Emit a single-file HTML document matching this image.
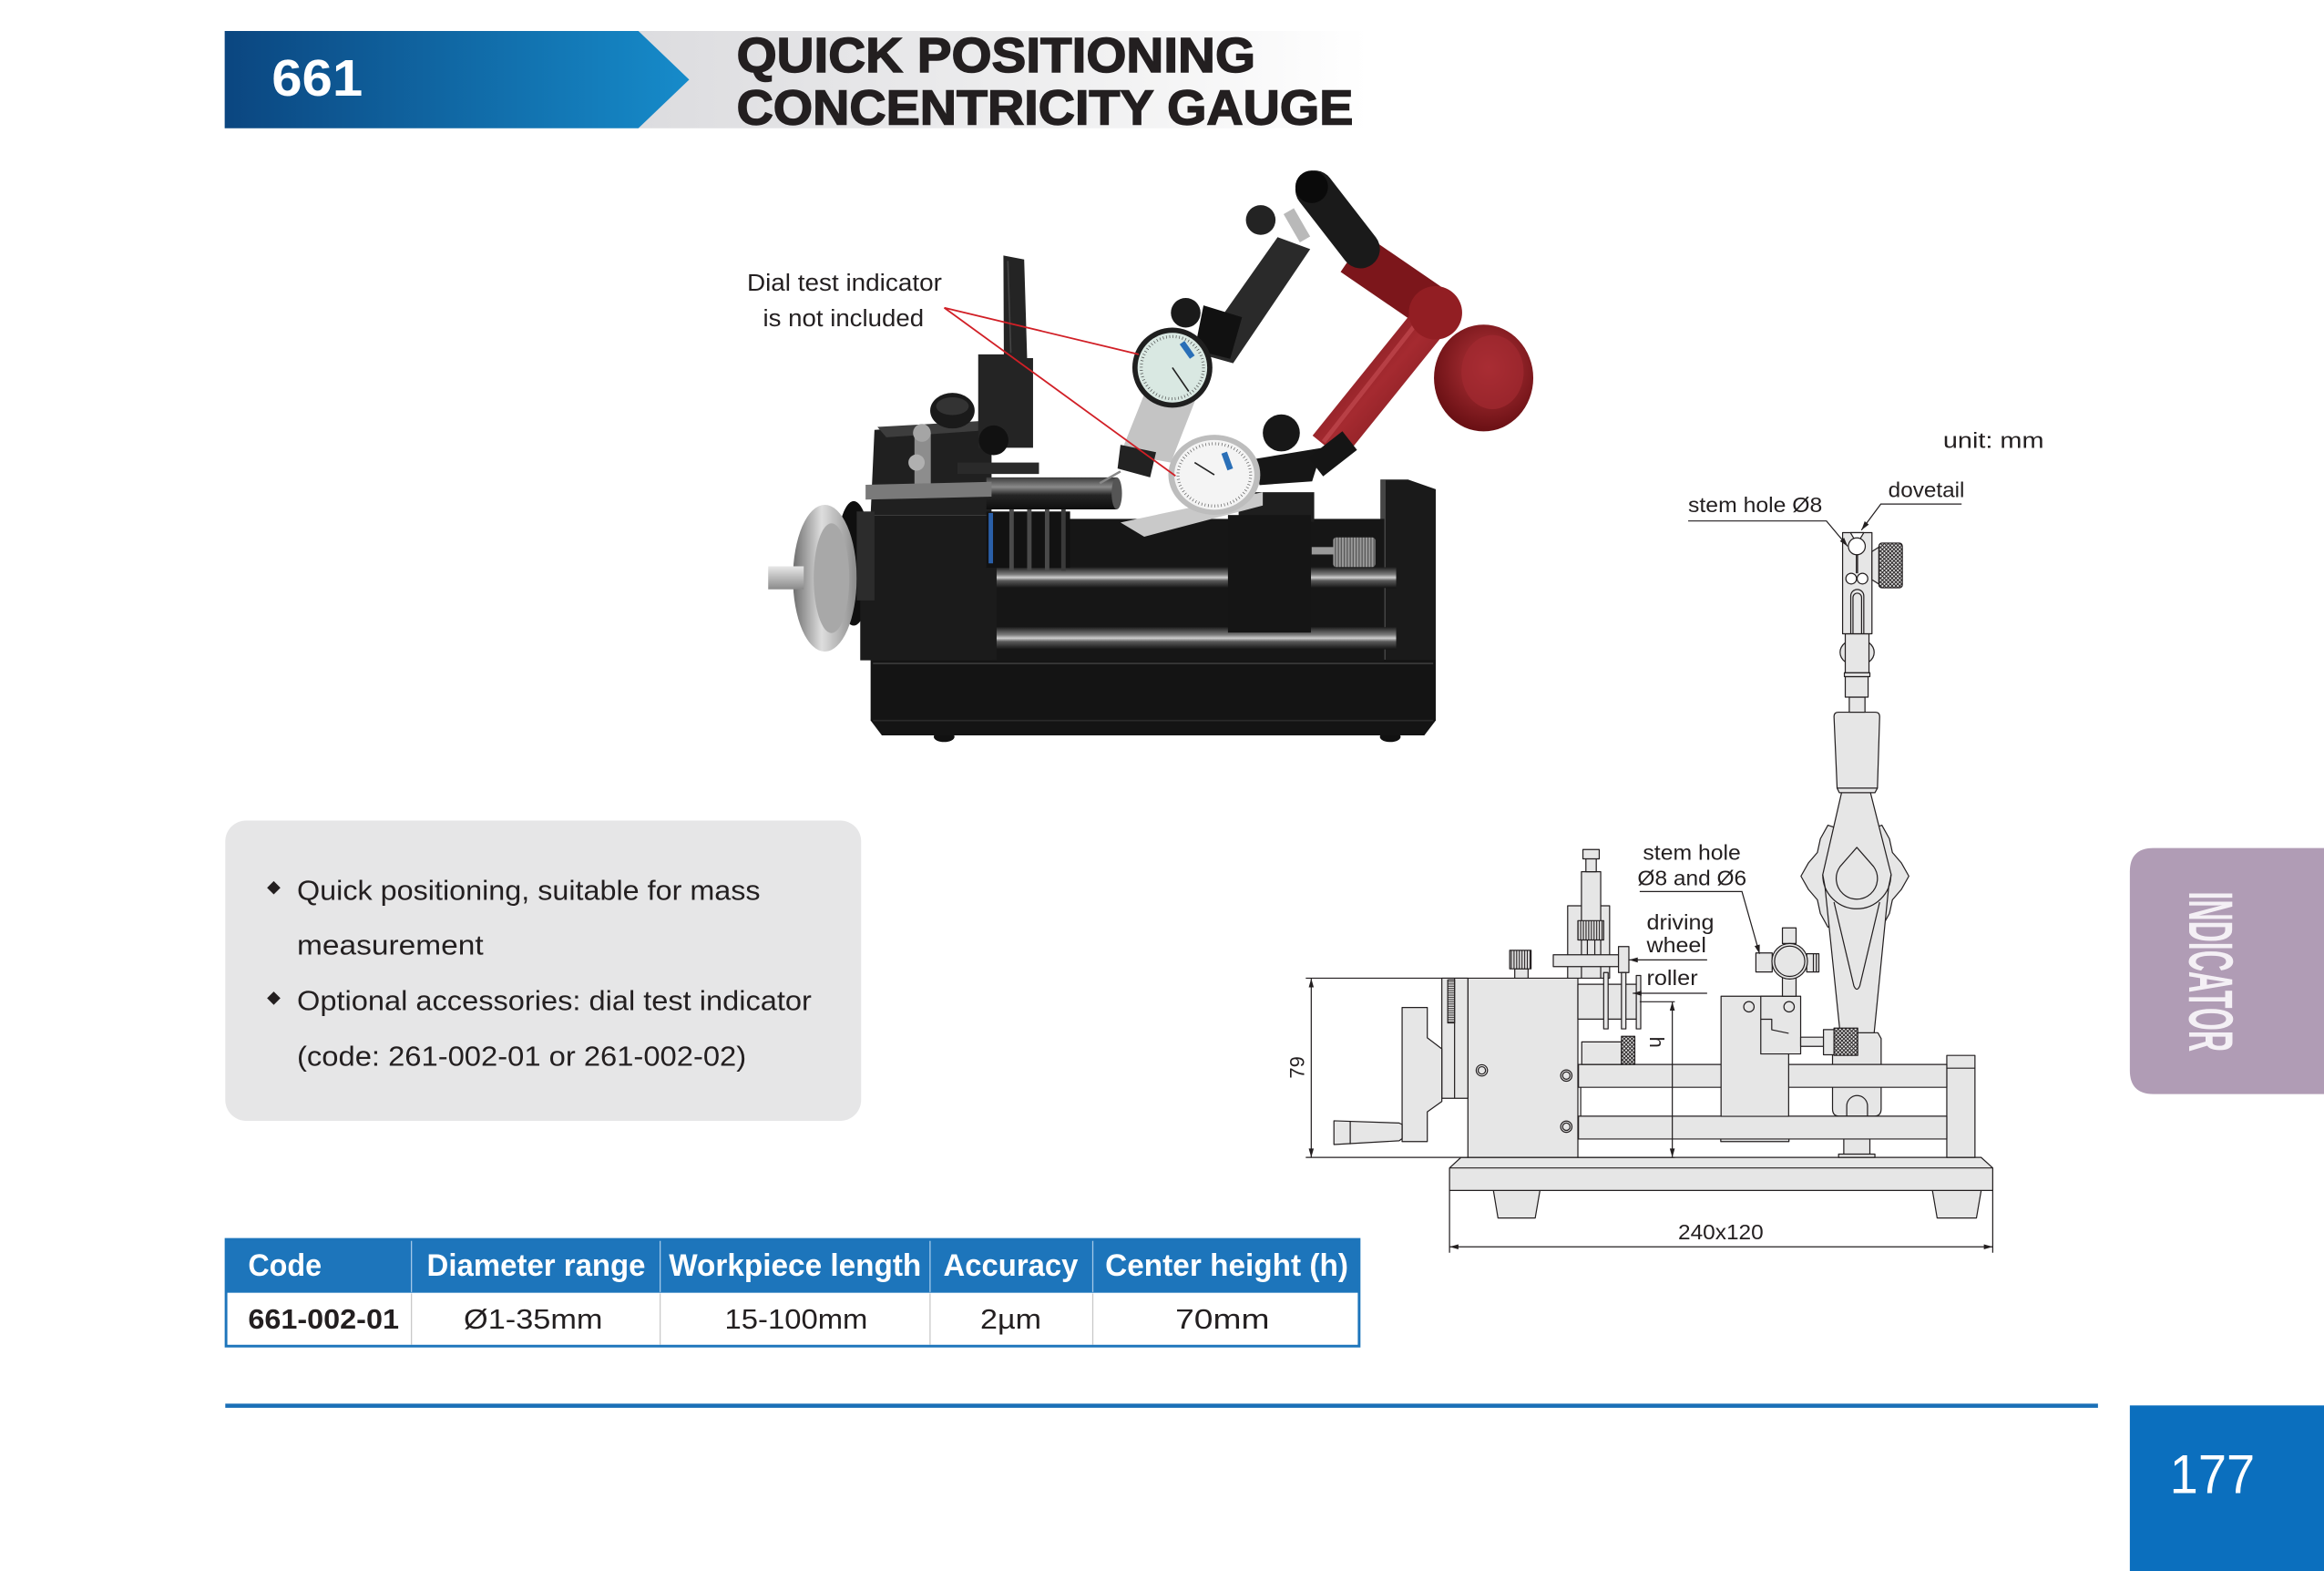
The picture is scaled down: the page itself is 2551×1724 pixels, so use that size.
<!DOCTYPE html>
<html><head><meta charset="utf-8">
<style>
html,body{margin:0;padding:0;background:#fff;}
svg{display:block;}
text{font-family:"Liberation Sans",Arial,sans-serif;}
</style></head><body>
<svg xmlns="http://www.w3.org/2000/svg" width="2551" height="1724" viewBox="0 0 1568 1059.68" preserveAspectRatio="none">
<defs>
 <linearGradient id="hdr" x1="0" x2="1" y1="0" y2="0"><stop offset="0" stop-color="#0b4680"/><stop offset="1" stop-color="#168bca"/></linearGradient>
 <linearGradient id="gry" x1="0" x2="1" y1="0" y2="0"><stop offset="0" stop-color="#dcdcdf"/><stop offset="0.55" stop-color="#eeeeef"/><stop offset="1" stop-color="#ffffff"/></linearGradient>
 <linearGradient id="rod" x1="0" x2="0" y1="0" y2="1"><stop offset="0" stop-color="#1e1e1e"/><stop offset="0.35" stop-color="#7d7d7d"/><stop offset="0.5" stop-color="#cfcfcf"/><stop offset="0.65" stop-color="#5a5a5a"/><stop offset="1" stop-color="#141414"/></linearGradient>
 <linearGradient id="silv" x1="0" x2="0" y1="0" y2="1"><stop offset="0" stop-color="#e8e8e8"/><stop offset="1" stop-color="#8a8a8a"/></linearGradient>
 <linearGradient id="wheel" x1="0" x2="1" y1="0" y2="0"><stop offset="0" stop-color="#6e6e6e"/><stop offset="0.45" stop-color="#dedede"/><stop offset="1" stop-color="#8a8a8a"/></linearGradient>
 <linearGradient id="spin" x1="0" x2="0" y1="0" y2="1"><stop offset="0" stop-color="#3a3a3a"/><stop offset="0.3" stop-color="#8a8a8a"/><stop offset="0.55" stop-color="#262626"/><stop offset="1" stop-color="#0e0e0e"/></linearGradient>
 <radialGradient id="redk" cx="0.55" cy="0.4" r="0.6"><stop offset="0" stop-color="#b8363c"/><stop offset="1" stop-color="#6a1014"/></radialGradient>
 <linearGradient id="reda" x1="0" x2="1" y1="0" y2="1"><stop offset="0" stop-color="#5e0f13"/><stop offset="0.5" stop-color="#a52a30"/><stop offset="1" stop-color="#6a1216"/></linearGradient>
 <pattern id="kn" width="2.6" height="2.6" patternUnits="userSpaceOnUse"><rect width="2.6" height="2.6" fill="#e6e6e6"/><path d="M0,0 L2.6,2.6 M2.6,0 L0,2.6" stroke="#231f20" stroke-width="0.6"/></pattern>
 <pattern id="kv" width="1.8" height="4" patternUnits="userSpaceOnUse"><rect width="1.8" height="4" fill="#e6e6e6"/><path d="M0.9,0 V4" stroke="#231f20" stroke-width="0.7"/></pattern>
 <pattern id="kh" width="4" height="1.5" patternUnits="userSpaceOnUse"><rect width="4" height="1.5" fill="#e6e6e6"/><path d="M0,0.75 H4" stroke="#231f20" stroke-width="0.6"/></pattern>
 <pattern id="pk" width="2" height="4" patternUnits="userSpaceOnUse"><rect width="2" height="4" fill="#9a9a9a"/><path d="M1,0 V4" stroke="#555" stroke-width="0.8"/></pattern>
</defs>

<!-- HEADER -->
<polygon points="430.7,20.9 923.5,20.9 923.5,86.5 430.7,86.5" fill="url(#gry)"/>
<polygon points="151.6,20.9 430.7,20.9 465,53.7 430.7,86.5 151.6,86.5" fill="url(#hdr)"/>
<text x="183.3" y="64.5" font-size="35" font-weight="bold" fill="#fff" textLength="61.5" lengthAdjust="spacingAndGlyphs">661</text>
<text x="497" y="48.5" font-size="33" font-weight="bold" fill="#231f20" stroke="#231f20" stroke-width="0.9" textLength="350" lengthAdjust="spacingAndGlyphs">QUICK POSITIONING</text>
<text x="497" y="84" font-size="33" font-weight="bold" fill="#231f20" stroke="#231f20" stroke-width="0.9" textLength="416" lengthAdjust="spacingAndGlyphs">CONCENTRICITY GAUGE</text>

<!-- PHOTO -->
<g id="photo">
 <ellipse cx="637" cy="497" rx="7" ry="3.5" fill="#111"/>
 <ellipse cx="938" cy="497" rx="7" ry="3.5" fill="#111"/>
 <polygon points="587.4,445 968.7,445 968.7,486 961,496 595,496 587.4,486" fill="#141414"/>
 <line x1="589" y1="447.5" x2="967" y2="447.5" stroke="#3c3c3c" stroke-width="1"/>
 <line x1="589" y1="486" x2="967" y2="486" stroke="#2a2a2a" stroke-width="1"/>
 <!-- right post -->
 <polygon points="931.4,323.5 950,323.5 968.7,330 968.7,445 931.4,445" fill="#1a1a1a"/>
 <rect x="931.4" y="323.5" width="3.5" height="121.5" fill="#454545"/>
 <!-- carriage body -->
 <rect x="669" y="350" width="265" height="96" fill="#161616"/>
 <rect x="669" y="382.6" width="273" height="14" fill="url(#rod)"/>
 <rect x="669" y="423" width="273" height="15" fill="url(#rod)"/>
 <!-- handwheel -->
 <ellipse cx="576" cy="380" rx="12" ry="42" fill="#0f0f0f"/>
 <ellipse cx="556.5" cy="390" rx="21.5" ry="49.5" fill="url(#wheel)"/>
 <ellipse cx="561" cy="390" rx="12" ry="37" fill="#a8a8a8"/>
 <rect x="518.3" y="382" width="24" height="15.5" fill="url(#silv)"/>
 <!-- headstock -->
 <rect x="580.4" y="347.4" width="92" height="98" fill="#1b1b1b"/>
 <polygon points="590,290 669,284.4 669,347.4 587.4,347.4" fill="#202020"/>
 <polygon points="592,288 662,284 669,290 598,295" fill="#3d3d3d"/>
 <rect x="578" y="345" width="12" height="60" fill="#2c2c2c"/>
 <!-- rollers -->
 <rect x="665.5" y="345" width="56.5" height="38" fill="#121212"/>
 <rect x="667" y="346" width="3" height="34" fill="#2a5fa8"/>
 <rect x="681" y="343" width="3" height="42" fill="#4a4a4a"/>
 <rect x="693" y="343" width="3" height="42" fill="#4a4a4a"/>
 <rect x="705" y="343" width="3" height="42" fill="#4a4a4a"/>
 <rect x="716" y="343" width="3" height="42" fill="#3a3a3a"/>
 <!-- spindle -->
 <rect x="646" y="312" width="55" height="7.7" fill="#2a2a2a"/>
 <rect x="665.5" y="322" width="88" height="21.6" fill="url(#spin)"/>
 <ellipse cx="753.5" cy="332.8" rx="3.5" ry="10.8" fill="#555"/>
 <!-- bracket + screws -->
 <rect x="617" y="292" width="11" height="38" fill="#8d8d8d"/>
 <polygon points="584,327 669,325 669,335 584,337" fill="#7a7a7a"/>
 <circle cx="622" cy="292" r="6" fill="#a5a5a5"/>
 <circle cx="618.4" cy="312" r="5.5" fill="#b0b0b0"/>
 <ellipse cx="642.6" cy="277" rx="15" ry="12" fill="#1a1a1a"/>
 <ellipse cx="642.6" cy="274" rx="11" ry="6" fill="#333"/>
 <!-- L plate -->
 <polygon points="677,172.3 691,175 693,241.6 697,241.6 697,302 660,302 660,239 677.3,239" fill="#242424"/>
 <line x1="680" y1="176" x2="682" y2="238" stroke="#444" stroke-width="1"/>
 <circle cx="670.4" cy="297" r="10" fill="#111"/>
 <!-- tailstock -->
 <rect x="835.7" y="332" width="51" height="20" fill="#1e1e1e"/>
 <rect x="828.5" y="347.4" width="56" height="79.3" fill="#151515"/>
 <rect x="885" y="369" width="15" height="5" fill="#999"/>
 <rect x="899.5" y="362.5" width="28.4" height="20" rx="2" fill="url(#pk)"/>
 <!-- dial 2 body & clamp -->
 <polygon points="756,352.4 852,332 852,341 772,362" fill="#c9c9c9"/>
 <polygon points="846.3,309.6 892.4,302 885.3,324.7 849.8,327.2" fill="#161616"/>
 <circle cx="864.5" cy="292" r="12.5" fill="#171717"/>
 <!-- red arm -->
 <polygon points="904.5,183.4 960,221.4 977,196.6 921.5,158.6" fill="#7c161b"/>
 <polygon points="975.1,224.2 905.8,310.2 885.6,293.8 954.9,207.8" fill="url(#reda)"/>
 <line x1="962" y1="210" x2="893" y2="298" stroke="#c24a50" stroke-width="3" opacity="0.7"/>
 <rect x="884" y="298" width="29" height="16" fill="#151515" transform="rotate(-38 899 305)"/>
 <circle cx="968.5" cy="211" r="18" fill="#921e23"/>
 <ellipse cx="1001" cy="255" rx="33.5" ry="36" fill="url(#redk)"/>
 <ellipse cx="1007" cy="251" rx="21" ry="25" fill="#a22a30" opacity="0.7"/>
 <line x1="887" y1="128" x2="918" y2="168" stroke="#1a1a1a" stroke-width="26" stroke-linecap="round"/>
 <circle cx="885" cy="126" r="11" fill="#0a0a0a"/>
 <rect x="871" y="141" width="8" height="22" fill="#b9b9b9" transform="rotate(-30 875 152)"/>
 <!-- dial 1 holder -->
 <polygon points="862,160 884,168 832,245 807,238" fill="#2a2a2a"/>
 <polygon points="812,206 838,214 830,242 806,236" fill="#111"/>
 <circle cx="850.6" cy="148.4" r="10" fill="#232323"/>
 <circle cx="800" cy="211" r="10" fill="#1a1a1a"/>
 <!-- dial 1 body -->
 <polygon points="772,266 808,266 790,312 756,306" fill="#c4c4c4"/>
 <polygon points="756,300 780,305 776,322 754,316" fill="#222"/>
 <line x1="756" y1="318" x2="742" y2="326" stroke="#888" stroke-width="1.5"/>
 <!-- dial 1 -->
 <circle cx="791" cy="248" r="27" fill="#1f1f1f"/>
 <circle cx="791" cy="248" r="23.5" fill="#d9e8e2"/>
 <circle cx="791" cy="248" r="21" fill="none" stroke="#444" stroke-width="2" stroke-dasharray="0.4 1.8"/>
 <line x1="791" y1="248" x2="802" y2="264" stroke="#222" stroke-width="1"/>
 <rect x="795" y="234" width="12" height="4" fill="#2a6fb7" transform="rotate(55 801 236)"/>
 <!-- dial 2 -->
 <ellipse cx="819.3" cy="320.3" rx="31" ry="27" fill="#bdbdbd"/>
 <ellipse cx="819.3" cy="320.3" rx="27" ry="23.5" fill="#f4f4f4"/>
 <ellipse cx="819.3" cy="320.3" rx="24.5" ry="21" fill="none" stroke="#555" stroke-width="2" stroke-dasharray="0.4 1.8"/>
 <line x1="819.3" y1="320.3" x2="806" y2="312" stroke="#222" stroke-width="1"/>
 <rect x="822" y="309" width="12" height="4" fill="#2a6fb7" transform="rotate(70 828 311)"/>
 <!-- callout -->
 <text x="504" y="196" font-size="16" fill="#231f20" textLength="131.5" lengthAdjust="spacingAndGlyphs">Dial test indicator</text>
 <text x="514.8" y="220.2" font-size="16" fill="#231f20" textLength="108.5" lengthAdjust="spacingAndGlyphs">is not included</text>
 <line x1="637.1" y1="207.6" x2="768.3" y2="239" stroke="#d11f26" stroke-width="1.1"/>
 <line x1="637.1" y1="207.6" x2="793.1" y2="321" stroke="#d11f26" stroke-width="1.1"/>
</g>

<!-- FEATURE BOX -->
<rect x="152" y="553.5" width="429" height="202.5" rx="14" fill="#e6e6e7"/>
<g fill="#231f20">
 <polygon points="184.7,594.3 189.2,598.8 184.7,603.3 180.2,598.8"/>
 <polygon points="184.7,668.8 189.2,673.3 184.7,677.8 180.2,673.3"/>
 <text x="200.4" y="607" font-size="18.5" textLength="312.6" lengthAdjust="spacingAndGlyphs">Quick positioning, suitable for mass</text>
 <text x="200.4" y="644" font-size="18.5" textLength="125.8" lengthAdjust="spacingAndGlyphs">measurement</text>
 <text x="200.4" y="681.5" font-size="18.5" textLength="347.2" lengthAdjust="spacingAndGlyphs">Optional accessories: dial test indicator</text>
 <text x="200.4" y="718.8" font-size="18.5" textLength="303.1" lengthAdjust="spacingAndGlyphs">(code: 261-002-01 or 261-002-02)</text>
</g>

<!-- TABLE -->
<rect x="152.5" y="836" width="764.5" height="36" fill="#1d75bb"/>
<g stroke="#a3c8e8" stroke-width="0.8">
 <line x1="277.6" y1="837" x2="277.6" y2="871.5"/><line x1="445.4" y1="837" x2="445.4" y2="871.5"/>
 <line x1="627.5" y1="837" x2="627.5" y2="871.5"/><line x1="737.3" y1="837" x2="737.3" y2="871.5"/>
</g>
<g stroke="#c9c9c9" stroke-width="0.8">
 <line x1="277.6" y1="872.5" x2="277.6" y2="907"/><line x1="445.4" y1="872.5" x2="445.4" y2="907"/>
 <line x1="627.5" y1="872.5" x2="627.5" y2="907"/><line x1="737.3" y1="872.5" x2="737.3" y2="907"/>
</g>
<rect x="152.5" y="836" width="764.5" height="72" fill="none" stroke="#1d75bb" stroke-width="1.8"/>
<g fill="#fff" font-weight="bold" font-size="21">
 <text x="167.4" y="860.5" textLength="49.6" lengthAdjust="spacingAndGlyphs">Code</text>
 <text x="288" y="860.5" textLength="147.5" lengthAdjust="spacingAndGlyphs">Diameter range</text>
 <text x="451.3" y="860.5" textLength="170.3" lengthAdjust="spacingAndGlyphs">Workpiece length</text>
 <text x="636.5" y="860.5" textLength="90.9" lengthAdjust="spacingAndGlyphs">Accuracy</text>
 <text x="745.7" y="860.5" textLength="164" lengthAdjust="spacingAndGlyphs">Center height (h)</text>
</g>
<g fill="#231f20" font-size="19">
 <text x="167.4" y="896.3" font-weight="bold" textLength="101.8" lengthAdjust="spacingAndGlyphs">661-002-01</text>
 <text x="312.9" y="896.3" textLength="93.7" lengthAdjust="spacingAndGlyphs">Ø1-35mm</text>
 <text x="489" y="896.3" textLength="96.4" lengthAdjust="spacingAndGlyphs">15-100mm</text>
 <text x="661.4" y="896.3" textLength="41.2" lengthAdjust="spacingAndGlyphs">2µm</text>
 <text x="793" y="896.3" textLength="63.5" lengthAdjust="spacingAndGlyphs">70mm</text>
</g>

<!-- FOOTER -->
<rect x="152" y="946.8" width="1263.5" height="2.8" fill="#1a6fb7"/>
<rect x="1437" y="948" width="131" height="111.7" fill="#0b6fbe"/>
<text x="1463.9" y="1007" font-size="37" fill="#fff" textLength="57.5" lengthAdjust="spacingAndGlyphs">177</text>

<!-- SIDE TAB -->
<path d="M1453,572 H1568 V738 H1453 Q1437,738 1437,722 V588 Q1437,572 1453,572 Z" fill="#b09cb5"/>
<text transform="translate(1477,601.4) rotate(90)" font-size="42" font-weight="bold" fill="#f4f0f5" textLength="108" lengthAdjust="spacingAndGlyphs">INDICATOR</text>

<!-- TECHNICAL DRAWING -->
<g fill="#e6e6e6" stroke="#231f20" stroke-width="0.75" stroke-linejoin="round">
 <polygon points="1007.6,803 1039,803 1035.8,821.6 1010.7,821.6"/>
 <polygon points="1303.8,803 1336.7,803 1333.5,821.6 1307,821.6"/>
 <polygon points="985.7,780.7 1336.7,780.7 1344.5,787.8 1344.5,803 978,803 978,787.8"/>
 <line x1="978" y1="787.8" x2="1344.5" y2="787.8"/>
 <rect x="1313.5" y="711.9" width="19" height="68.8"/>
 <line x1="1313.5" y1="720.5" x2="1332.5" y2="720.5"/>
 <path d="M1238.5,696.6 L1267,696.6 L1269.2,700.5 L1269.2,748 Q1269.2,752.9 1264.5,752.9 L1241,752.9 Q1236.4,752.9 1236.4,748 L1236.4,700.5 Z"/>
 <path d="M1246,752.9 V746 A7,7 0 0 1 1260,746 V752.9" fill="none"/>
 <rect x="1244" y="768.3" width="17.6" height="10.3"/>
 <rect x="1240.5" y="778.5" width="24.5" height="2.2"/>
 <rect x="1161" y="767.5" width="46" height="2.5"/>
 <rect x="1065" y="718" width="248.5" height="15.4"/>
 <rect x="1065" y="752.9" width="248.5" height="15.4"/>
 <line x1="1066.5" y1="733.4" x2="1066.5" y2="752.9"/>
 <rect x="1161.2" y="672" width="45.6" height="81"/>
 <rect x="1188" y="672" width="26.9" height="38.9"/>
 <polyline points="1188,687.5 1195.4,687.5 1195.4,694.6 1206.8,697" fill="none"/>
 <circle cx="1180" cy="679.1" r="3.5"/>
 <circle cx="1207.1" cy="679.1" r="3.5"/>
 <rect x="1202.6" y="659" width="9.2" height="13"/>
 <rect x="1202.6" y="625.9" width="9.2" height="10.5"/>
 <rect x="1184.7" y="642.8" width="11" height="12.8"/>
 <rect x="1219" y="643.3" width="8.2" height="12.3"/>
 <line x1="1223.5" y1="643.3" x2="1223.5" y2="655.6"/>
 <line x1="1225.5" y1="643.3" x2="1225.5" y2="655.6"/>
 <circle cx="1207.5" cy="648.4" r="12"/>
 <circle cx="1207.5" cy="648.4" r="10.2"/>
 <rect x="990.4" y="659.8" width="74.2" height="120.9"/>
 <rect x="972.8" y="659.8" width="17.6" height="81"/>
 <line x1="981.4" y1="659.8" x2="981.4" y2="740.8"/>
 <rect x="976.8" y="661" width="4.6" height="29" fill="url(#kh)"/>
 <polygon points="946,679.6 963,679.6 963,700 972.8,707.5 972.8,743 963,750 963,770 946,770"/>
 <polygon points="900,756 944,757.5 946,758.5 946,768 944,769.5 900,772"/>
 <line x1="911" y1="756.2" x2="911" y2="771.8"/>
 <rect x="1022" y="653.5" width="9" height="6.3"/>
 <rect x="1018.6" y="641" width="14.4" height="12.5" fill="url(#kv)"/>
 <circle cx="999.8" cy="722" r="3.8"/><circle cx="999.8" cy="722" r="2.5"/>
 <circle cx="1056.8" cy="725.5" r="3.8"/><circle cx="1056.8" cy="725.5" r="2.5"/>
 <circle cx="1056.8" cy="760" r="3.8"/><circle cx="1056.8" cy="760" r="2.5"/>
 <rect x="1057.7" y="611" width="28.3" height="48.8"/>
 <rect x="1067" y="588" width="13" height="71.8"/>
 <rect x="1070" y="579" width="7" height="9"/>
 <rect x="1068" y="573" width="11" height="6.3"/>
 <rect x="1064.6" y="621" width="17.4" height="13" fill="url(#kv)"/>
 <line x1="1071" y1="634" x2="1071" y2="644"/><line x1="1076" y1="634" x2="1076" y2="644"/>
 <rect x="1048" y="644" width="44" height="8"/>
 <rect x="1092" y="638.5" width="7" height="17.5"/>
 <rect x="1064.6" y="663.9" width="41.7" height="23.5"/>
 <rect x="1082" y="656" width="3" height="38"/>
 <rect x="1094" y="656" width="3" height="38"/>
 <rect x="1104" y="658" width="3" height="36"/>
 <rect x="1067.2" y="702.8" width="26.8" height="15.2"/>
 <rect x="1094" y="699" width="9" height="19" fill="url(#kn)"/>
 <polygon points="1287.9,591 1282.8,600 1276.8,607 1274.8,616.2 1269.7,625.4 1260.1,622.2 1251.5,620.2 1242.9,622.2 1233.3,625.4 1228.2,616.2 1226.2,607 1220.2,600 1215.1,591 1220.2,582 1226.2,575 1228.2,565.8 1233.3,556.6 1242.9,559.8 1251.5,561.8 1260.1,559.8 1269.7,556.6 1274.8,565.8 1276.8,575 1282.8,582"/>
 <polygon points="1242.5,534.7 1262,534.7 1276,590 1274.3,598 1264.5,696.6 1241.5,696.6 1231.3,598 1229.8,590"/>
 <path d="M1229.8,590 A23,23 0 0 0 1275.8,590" fill="none"/>
 <path d="M1237.4,608.5 L1250.8,665 Q1252.8,669.5 1254.8,665 L1268.2,608.5" fill="none"/>
 <path d="M1252.8,571.6 L1241.5,584.5 A13.9,13.9 0 1 0 1264.1,584.5 Z"/>
 <polygon points="1239.5,531.6 1266.7,531.6 1265,534.7 1241,534.7"/>
 <path d="M1237.4,483.4 Q1237.4,480.4 1240.4,480.4 L1265.2,480.4 Q1268.2,480.4 1268.2,483.4 L1266.7,531.6 L1239.5,531.6 Z"/>
 <rect x="1247.7" y="470.2" width="10.6" height="10.2"/>
 <rect x="1245" y="456.4" width="15.4" height="13.8"/>
 <rect x="1244.4" y="453.8" width="17.2" height="2.6"/>
 <ellipse cx="1253" cy="440" rx="11.5" ry="9"/>
 <rect x="1245" y="427.5" width="16" height="26.3"/>
 <rect x="1243.2" y="359.3" width="19.8" height="68.2"/>
 <polygon points="1248.5,359.3 1251,363.5 1255,363.5 1257.5,359.3" fill="#fff"/>
 <circle cx="1252.8" cy="368.5" r="5.7" fill="#fff"/>
 <line x1="1252.5" y1="374.2" x2="1252.5" y2="386.7"/>
 <line x1="1253.3" y1="374.2" x2="1253.3" y2="386.7"/>
 <circle cx="1249" cy="390.3" r="3.6" fill="#fff"/>
 <circle cx="1256.6" cy="390.3" r="3.6" fill="#fff"/>
 <path d="M1248.7,427.5 V402 A4.4,4.4 0 0 1 1257.5,402 V427.5" fill="none"/>
 <path d="M1250.2,427.5 V403 A2.9,2.9 0 0 1 1256,403 V427.5" fill="none"/>
 <polygon points="1263,372 1267.7,369 1267.7,394 1263,391"/>
 <rect x="1267.7" y="366.3" width="15.8" height="30.2" rx="2" fill="url(#kn)"/>
 <rect x="1214.9" y="699.6" width="15.4" height="6.2"/>
 <rect x="1230.3" y="694.5" width="7.1" height="17"/>
 <rect x="1237.4" y="693.5" width="16" height="18.4" fill="url(#kn)"/>
</g>

<g stroke="#231f20" stroke-width="0.75" fill="none">
 <line x1="881" y1="659.8" x2="990.4" y2="659.8"/>
 <line x1="881" y1="780.7" x2="990.4" y2="780.7"/>
 <line x1="884.7" y1="660" x2="884.7" y2="780.7"/>
 <line x1="1064.6" y1="780.7" x2="1130" y2="780.7"/>
 <line x1="1106.3" y1="675.7" x2="1130" y2="675.7"/>
 <line x1="1128.3" y1="675.7" x2="1128.3" y2="780.7"/>
 <line x1="978" y1="803" x2="978" y2="845"/>
 <line x1="1344.5" y1="803" x2="1344.5" y2="845"/>
 <line x1="978" y1="841" x2="1344.5" y2="841"/>
 <polyline points="1106.3,601.4 1175.3,601.4 1187.2,643.4"/>
 <line x1="1099.1" y1="647.5" x2="1151.8" y2="647.5"/>
 <line x1="1101.6" y1="670" x2="1151.8" y2="670"/>
 <polyline points="1139,351.4 1232.3,351.4 1246.6,368.5"/>
 <polyline points="1323.5,340 1269,340 1255.9,357.6"/>
</g>
<g fill="#231f20">
 <polygon points="884.7,660 883,666 886.4,666"/>
 <polygon points="884.7,780.7 883,774.7 886.4,774.7"/>
 <polygon points="1128.3,675.7 1126.6,681.7 1130,681.7"/>
 <polygon points="1128.3,780.7 1126.6,774.7 1130,774.7"/>
 <polygon points="978,841 984,839.3 984,842.7"/>
 <polygon points="1344.5,841 1338.5,839.3 1338.5,842.7"/>
 <polygon points="1187.2,643.4 1187.3,637.1 1183.8,638.1"/>
 <polygon points="1099.1,647.5 1105,645.8 1105,649.2"/>
 <polygon points="1101.6,670 1107.5,668.3 1107.5,671.7"/>
 <polygon points="1246.6,368.5 1244.2,362.75 1241.4,365.05"/>
 <polygon points="1255.9,357.6 1260.9,353.8 1258.1,351.6"/>
</g>
<g fill="#231f20" font-size="14">
 <text x="1311" y="302" font-size="15" textLength="68" lengthAdjust="spacingAndGlyphs">unit: mm</text>
 <text x="1274" y="335.3" textLength="51.5" lengthAdjust="spacingAndGlyphs">dovetail</text>
 <text x="1139" y="345.5" textLength="90.5" lengthAdjust="spacingAndGlyphs">stem hole Ø8</text>
 <text x="1108.5" y="579.8" textLength="66" lengthAdjust="spacingAndGlyphs">stem hole</text>
 <text x="1104.8" y="597.3" textLength="73.6" lengthAdjust="spacingAndGlyphs">Ø8 and Ø6</text>
 <text x="1111" y="627" textLength="45.5" lengthAdjust="spacingAndGlyphs">driving</text>
 <text x="1111" y="642.3" textLength="40.2" lengthAdjust="spacingAndGlyphs">wheel</text>
 <text x="1111" y="664.5" textLength="34.5" lengthAdjust="spacingAndGlyphs">roller</text>
 <text x="1161" y="836" text-anchor="middle" textLength="57.6" lengthAdjust="spacingAndGlyphs">240x120</text>
 <text transform="translate(880,720) rotate(-90)" text-anchor="middle" font-size="13.5">79</text>
 <text transform="translate(1113,703) rotate(90)" text-anchor="middle" font-size="13.5">h</text>
</g>
</svg>
</body></html>
